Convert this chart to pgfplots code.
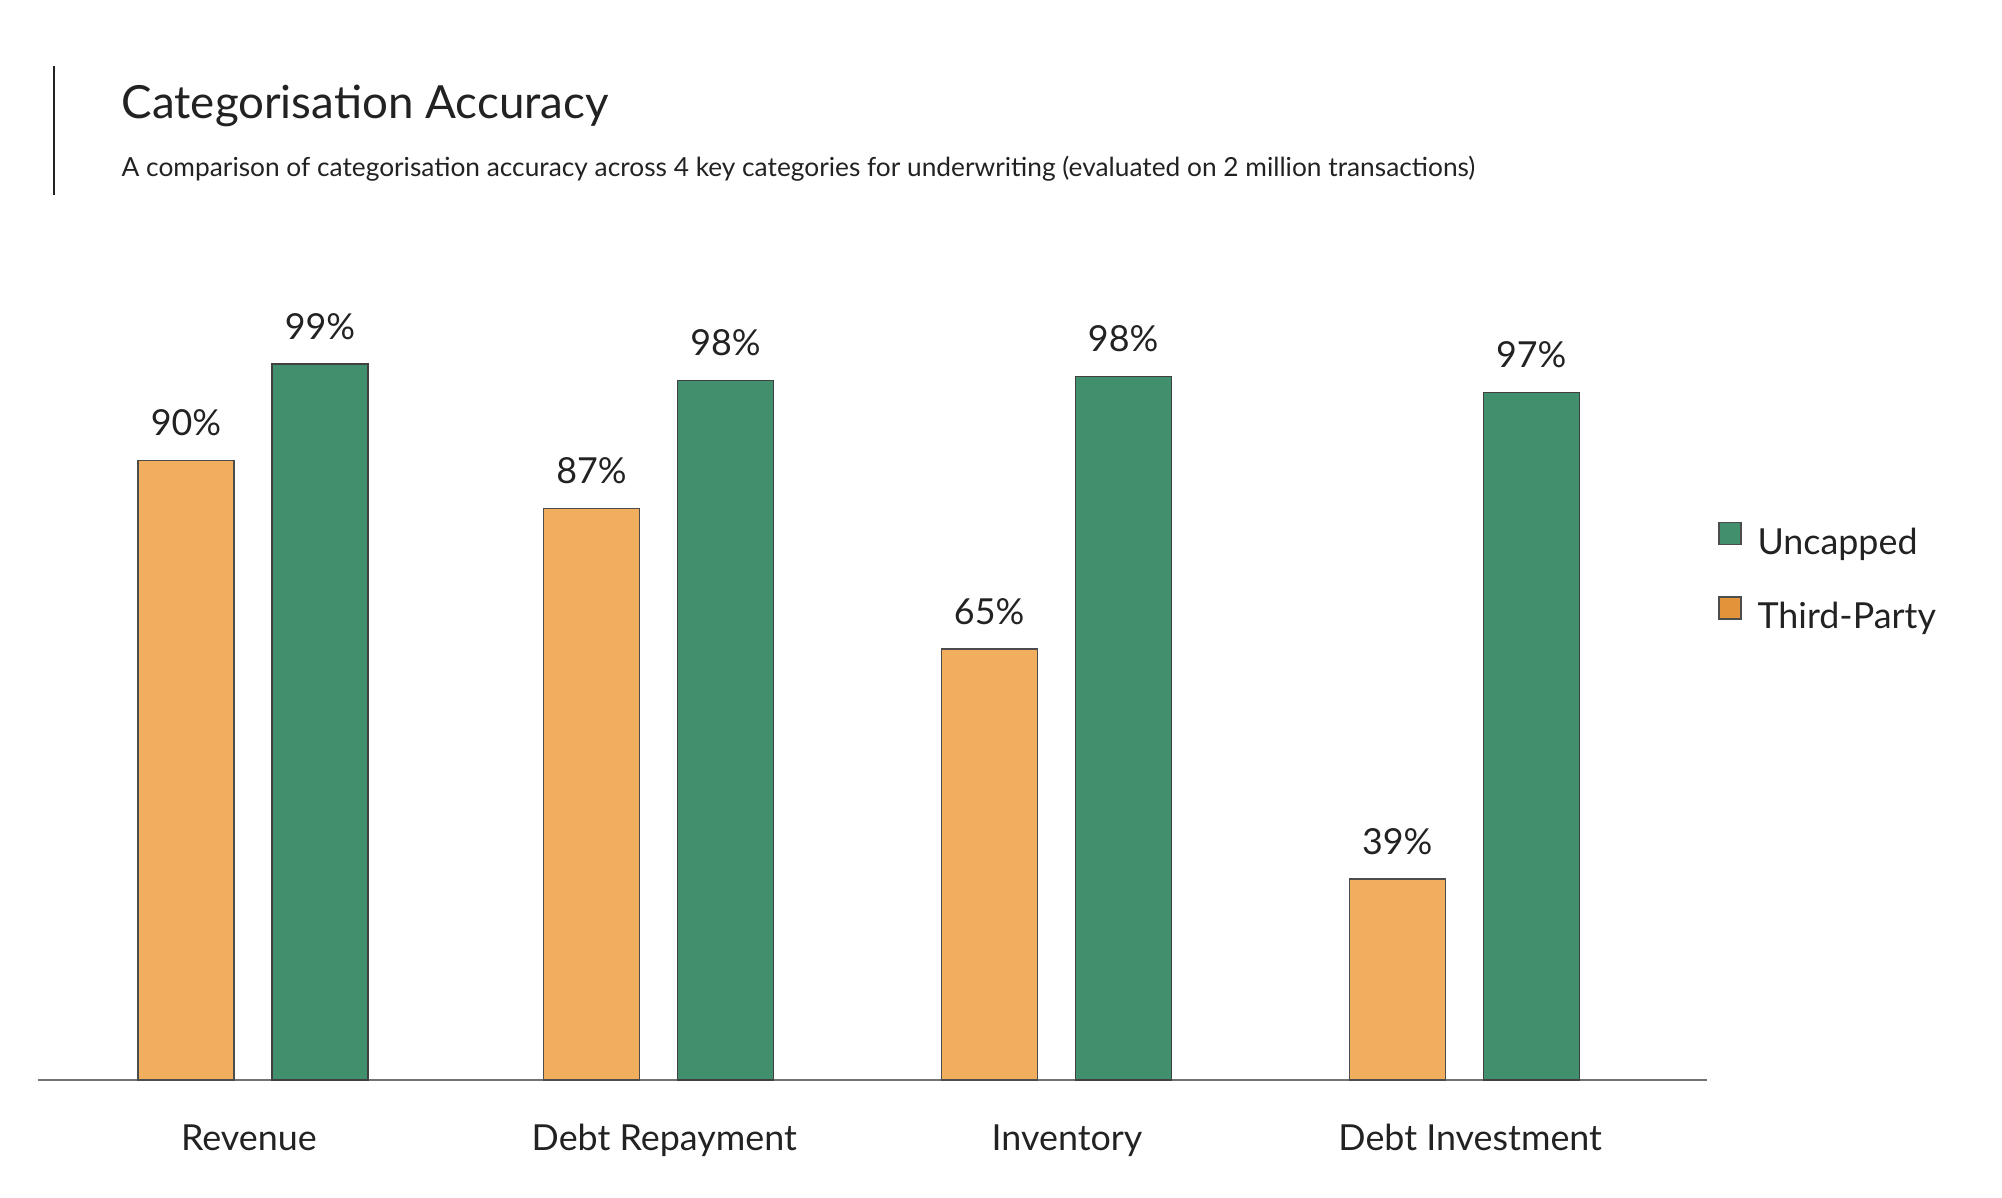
\documentclass[border=0pt]{standalone}
\usepackage{pgfplots}
\pgfplotsset{compat=1.18}
\usepackage{pgfplotstable}
\usepackage{fontspec}
\setmainfont{Lato}

\definecolor{barorange}{HTML}{F2AE5F}
\definecolor{bargreen}{HTML}{418F6C}
\definecolor{legorange}{HTML}{E3943A}
\definecolor{txt}{HTML}{222222}

% x, visual bar height (label 99 = 99 units), printed label
\pgfplotstableread{
x h lab
0 85.7 90
1.004 79.0 87
1.988 59.6 65
2.998 27.8 39
}\thirdparty
\pgfplotstableread{
x h lab
0 99.0 99
1.004 96.7 98
1.988 97.3 98
2.998 95.1 97
}\uncapped

\begin{document}
\begin{tikzpicture}
\path (0,0) rectangle (200.2mm,119.8mm);
\draw[txt, line width=0.2mm] (5.4mm,113.2mm) -- (5.4mm,100.3mm);
\node[anchor=base west, inner sep=0pt, text=txt, font=\fontsize{13}{15}\selectfont]
  at (12.1mm,107.9mm) {Categorisation Accuracy};
\node[anchor=base west, inner sep=0pt, text=txt, font=\fontsize{7.48}{9}\selectfont]
  at (12.1mm,102.1mm) {A comparison of categorisation accuracy across 4 key categories for underwriting (evaluated on 2 million transactions)};

\begin{axis}[
  at={(3.8mm,11.8mm)}, anchor=south west,
  scale only axis,
  width=166.9mm, height=78mm,
  xmin=-0.532, xmax=3.599,
  ymin=0, ymax=107.85,
  ybar=3.8mm, bar width=9.6mm,
  axis x line*=bottom,
  hide y axis,
  x axis line style={draw=black!55, line width=0.2mm, -},
  xtick={-0.01,1.018,2.015,3.013},
  xticklabels={Revenue, Debt Repayment, Inventory, Debt Investment},
  major tick length=0pt,
  xticklabel style={anchor=base, yshift=-7.05mm, text=txt, font=\fontsize{10.2}{12}\selectfont},
  clip=false,
  /pgf/number format/assume math mode=true,
  point meta=explicit,
  nodes near coords={\pgfmathprintnumber{\pgfplotspointmeta}\%},
  every node near coord/.append style={anchor=south, inner sep=0pt, yshift=2.4mm,
    text=txt, font=\fontsize{10.2}{12}\selectfont},
  reverse legend,
  legend cell align=left,
  legend image code/.code={\draw[#1, draw=black!70, line width=0.15mm] (0mm,0mm) rectangle (2.2mm,2.2mm);},
  legend style={at={(1.0066,0.7154)}, anchor=north west, draw=none, fill=none,
    inner sep=0pt, outer sep=0pt, row sep=3.5mm, column sep=1.6mm,
    nodes={inner sep=0pt, text height=2.6mm, text depth=0.7mm, text=txt},
    font=\fontsize{10.2}{12}\selectfont},
]
\addplot[fill=barorange, draw=black!70, line width=0.12mm,
  legend image post style={fill=legorange}]
  table[x=x, y=h, meta=lab] {\thirdparty};
\addlegendentry{Third-Party}
\addplot[fill=bargreen, draw=black!75, line width=0.12mm]
  table[x=x, y=h, meta=lab] {\uncapped};
\addlegendentry{Uncapped}
\end{axis}
\end{tikzpicture}
\end{document}
